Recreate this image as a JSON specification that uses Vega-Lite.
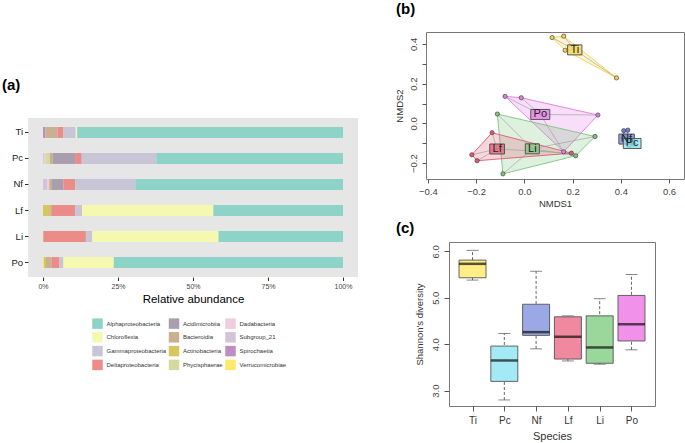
{
  "$schema": "https://vega.github.io/schema/vega-lite/v6.json",
  "padding": {"left": 2, "top": 1, "right": 0, "bottom": 0},
  "background": "white",
  "config": {
    "font": "Liberation Sans",
    "axis": {"labelFont": "Liberation Sans", "titleFont": "Liberation Sans", "titleFontWeight": "normal", "grid": false, "domain": false},
    "legend": {"labelFont": "Liberation Sans"},
    "title": {"font": "Liberation Sans", "fontWeight": "bold", "fontSize": 15, "anchor": "start", "color": "#000"}
  },
  "datasets": {
    "comp": [
      {"sp": "Ti", "cls": "Spirochaetia", "v": 0.8},
      {"sp": "Ti", "cls": "Bacteroidia", "v": 4.0},
      {"sp": "Ti", "cls": "Deltaproteobacteria", "v": 2.0},
      {"sp": "Ti", "cls": "Gammaproteobacteria", "v": 4.1},
      {"sp": "Ti", "cls": "Chloroflexia", "v": 0.5},
      {"sp": "Ti", "cls": "Alphaproteobacteria", "v": 88.6},
      {"sp": "Pc", "cls": "Subgroup_21", "v": 0.3},
      {"sp": "Pc", "cls": "Dadabacteria", "v": 0.5},
      {"sp": "Pc", "cls": "Phycisphaerae", "v": 1.5},
      {"sp": "Pc", "cls": "Bacteroidia", "v": 0.9},
      {"sp": "Pc", "cls": "Acidimicrobiia", "v": 7.5},
      {"sp": "Pc", "cls": "Deltaproteobacteria", "v": 2.2},
      {"sp": "Pc", "cls": "Gammaproteobacteria", "v": 24.9},
      {"sp": "Pc", "cls": "Alphaproteobacteria", "v": 62.2},
      {"sp": "Nf", "cls": "Subgroup_21", "v": 1.4},
      {"sp": "Nf", "cls": "Dadabacteria", "v": 0.7},
      {"sp": "Nf", "cls": "Bacteroidia", "v": 0.9},
      {"sp": "Nf", "cls": "Acidimicrobiia", "v": 3.8},
      {"sp": "Nf", "cls": "Deltaproteobacteria", "v": 3.9},
      {"sp": "Nf", "cls": "Gammaproteobacteria", "v": 20.1},
      {"sp": "Nf", "cls": "Alphaproteobacteria", "v": 69.2},
      {"sp": "Lf", "cls": "Actinobacteria", "v": 2.4},
      {"sp": "Lf", "cls": "Bacteroidia", "v": 0.6},
      {"sp": "Lf", "cls": "Deltaproteobacteria", "v": 7.7},
      {"sp": "Lf", "cls": "Gammaproteobacteria", "v": 2.3},
      {"sp": "Lf", "cls": "Chloroflexia", "v": 43.8},
      {"sp": "Lf", "cls": "Alphaproteobacteria", "v": 43.2},
      {"sp": "Li", "cls": "Bacteroidia", "v": 0.3},
      {"sp": "Li", "cls": "Deltaproteobacteria", "v": 14.0},
      {"sp": "Li", "cls": "Gammaproteobacteria", "v": 2.1},
      {"sp": "Li", "cls": "Chloroflexia", "v": 42.1},
      {"sp": "Li", "cls": "Alphaproteobacteria", "v": 41.5},
      {"sp": "Po", "cls": "Verrucomicrobiae", "v": 0.3},
      {"sp": "Po", "cls": "Actinobacteria", "v": 0.7},
      {"sp": "Po", "cls": "Bacteroidia", "v": 1.8},
      {"sp": "Po", "cls": "Deltaproteobacteria", "v": 2.7},
      {"sp": "Po", "cls": "Gammaproteobacteria", "v": 1.3},
      {"sp": "Po", "cls": "Chloroflexia", "v": 16.8},
      {"sp": "Po", "cls": "Alphaproteobacteria", "v": 76.4}
    ],
    "pts": [
      {"g": "Ti", "x": 0.115, "y": 0.432, "h": 1},
      {"g": "Ti", "x": 0.163, "y": 0.439, "h": 2},
      {"g": "Ti", "x": 0.382, "y": 0.229, "h": 3},
      {"g": "Ti", "x": 0.169, "y": 0.368, "h": 4},
      {"g": "Po", "x": -0.080, "y": 0.136, "h": 1},
      {"g": "Po", "x": -0.013, "y": 0.129, "h": 2},
      {"g": "Po", "x": 0.305, "y": 0.042, "h": 3},
      {"g": "Po", "x": 0.163, "y": -0.143, "h": 4},
      {"g": "Li", "x": -0.112, "y": 0.047, "h": 1},
      {"g": "Li", "x": 0.293, "y": -0.066, "h": 2},
      {"g": "Li", "x": 0.213, "y": -0.163, "h": 3},
      {"g": "Li", "x": -0.089, "y": -0.254, "h": 4},
      {"g": "Lf", "x": -0.134, "y": -0.047, "h": 1},
      {"g": "Lf", "x": 0.195, "y": -0.150, "h": 2},
      {"g": "Lf", "x": -0.196, "y": -0.188, "h": 3},
      {"g": "Lf", "x": -0.218, "y": -0.158, "h": 4},
      {"g": "Nf", "x": 0.412, "y": -0.037, "h": 1},
      {"g": "Nf", "x": 0.429, "y": -0.034, "h": 2},
      {"g": "Nf", "x": 0.430, "y": -0.085, "h": 3},
      {"g": "Nf", "x": 0.410, "y": -0.075, "h": 4},
      {"g": "Pc", "x": 0.440, "y": -0.095, "h": 1},
      {"g": "Pc", "x": 0.455, "y": -0.105, "h": 2},
      {"g": "Pc", "x": 0.435, "y": -0.110, "h": 3}
    ],
    "lab": [
      {"g": "Ti", "x": 0.209, "y": 0.370},
      {"g": "Po", "x": 0.066, "y": 0.045},
      {"g": "Lf", "x": -0.113, "y": -0.129},
      {"g": "Li", "x": 0.033, "y": -0.128},
      {"g": "Nf", "x": 0.424, "y": -0.079},
      {"g": "Pc", "x": 0.447, "y": -0.101}
    ],
    "box": [
      {"sp": "Ti", "lo": 5.38, "q1": 5.43, "med": 5.73, "q3": 5.81, "hi": 6.02},
      {"sp": "Pc", "lo": 2.80, "q1": 3.20, "med": 3.65, "q3": 3.96, "hi": 4.23},
      {"sp": "Nf", "lo": 3.90, "q1": 4.19, "med": 4.26, "q3": 4.86, "hi": 5.57},
      {"sp": "Lf", "lo": 3.64, "q1": 3.68, "med": 4.16, "q3": 4.59, "hi": 4.61},
      {"sp": "Li", "lo": 3.57, "q1": 3.59, "med": 3.93, "q3": 4.61, "hi": 4.98},
      {"sp": "Po", "lo": 3.88, "q1": 4.07, "med": 4.43, "q3": 5.05, "hi": 5.50}
    ]
  },
  "spacing": 34,
  "hconcat": [
    {
      "spacing": 40,
      "vconcat": [
        {"width": 10, "height": 1, "data": {"values": [{"a": 0}]}, "mark": {"type": "text", "text": ""}, "encoding": {}, "view": {"stroke": null, "fill": null}},
        {
          "width": 330,
          "height": 159,
          "title": {"text": "(a)", "frame": "group", "dx": -26, "offset": 25},
          "view": {"fill": "#E6E6E6", "stroke": null},
          "data": {"name": "comp"},
          "transform": [
            {"calculate": "indexof(['Verrucomicrobiae','Spirochaetia','Subgroup_21','Dadabacteria','Phycisphaerae','Actinobacteria','Bacteroidia','Acidimicrobiia','Deltaproteobacteria','Gammaproteobacteria','Chloroflexia','Alphaproteobacteria'], datum.cls)", "as": "ord"}
          ],
          "mark": {"type": "bar"},
          "encoding": {
            "y": {
              "field": "sp", "type": "nominal", "sort": ["Ti", "Pc", "Nf", "Lf", "Li", "Po"],
              "scale": {"paddingInner": 0.58, "paddingOuter": 0.346},
              "axis": {"title": null, "ticks": true, "tickSize": 3.5, "tickColor": "#333", "labelFontSize": 9.5, "labelColor": "#222", "labelPadding": 2}
            },
            "x": {
              "field": "v", "type": "quantitative", "stack": "normalize",
              "scale": {"domain": [-0.05, 1.05], "nice": false, "zero": false},
              "axis": {"values": [0, 0.25, 0.5, 0.75, 1], "format": ".0%", "title": "Relative abundance", "titleFontSize": 11.5, "titleColor": "#000", "titlePadding": 4, "labelFontSize": 7, "labelColor": "#444", "tickSize": 3.5, "tickColor": "#333", "labelPadding": 2}
            },
            "color": {
              "field": "cls", "type": "nominal",
              "scale": {
                "domain": ["Alphaproteobacteria", "Chloroflexia", "Gammaproteobacteria", "Deltaproteobacteria", "Acidimicrobiia", "Bacteroidia", "Actinobacteria", "Phycisphaerae", "Dadabacteria", "Subgroup_21", "Spirochaetia", "Verrucomicrobiae"],
                "range": ["#8DD3C7", "#F5F9B0", "#C8C6D6", "#EB8C88", "#A89EAE", "#C9B08F", "#D7C65E", "#D5DA9F", "#EFCCDF", "#D3C3D6", "#BF8DBF", "#FFE86A"]
              },
              "legend": {"orient": "none", "legendX": 64, "legendY": 286, "columns": 3, "title": null, "symbolType": "square", "symbolSize": 110, "symbolStrokeWidth": 0, "symbolOpacity": 1, "labelFontSize": 6, "labelColor": "#333", "rowPadding": 2.8, "columnPadding": 1.5, "labelOffset": 3.5, "padding": 0, "labelLimit": 200}
            },
            "order": {"field": "ord", "type": "quantitative"}
          }
        }
      ]
    },
    {
      "spacing": 11,
      "resolve": {"scale": {"fill": "independent"}},
      "vconcat": [
        {
          "title": {"text": "(b)", "offset": 10, "dx": 4},
          "spacing": 0,
          "hconcat": [
            {"width": 1, "height": 1, "data": {"values": [{"a": 0}]}, "mark": {"type": "text", "text": ""}, "encoding": {}, "view": {"stroke": null, "fill": null}},
            {
              "width": 258,
              "height": 147,
              "view": {"stroke": "#777"},
              "encoding": {
                "x": {
                  "field": "x", "type": "quantitative",
                  "scale": {"domain": [-0.408, 0.662], "nice": false, "zero": false},
                  "axis": {"values": [-0.4, -0.2, 0, 0.2, 0.4, 0.6], "format": ".1f", "title": "NMDS1", "titleFontSize": 9.5, "titleColor": "#333", "titlePadding": 3, "labelFontSize": 9.5, "labelColor": "#444", "tickSize": 4, "tickColor": "#555", "labelPadding": 3}
                },
                "y": {
                  "field": "y", "type": "quantitative",
                  "scale": {"domain": [-0.28, 0.46], "nice": false, "zero": false},
                  "axis": {"values": [-0.2, -0.1, 0, 0.1, 0.2, 0.3, 0.4], "labelExpr": "abs(round(datum.value*10))%2==0 ? format(datum.value, '.1f') : ''", "labelAngle": 270, "labelAlign": "center", "labelBaseline": "bottom", "title": "NMDS2", "titleFontSize": 9.5, "titleColor": "#333", "titlePadding": 4, "labelFontSize": 9.5, "labelColor": "#444", "tickSize": 4, "tickColor": "#555", "labelPadding": 4}
                }
              },
              "layer": [
                {
                  "data": {"name": "pts"},
                  "mark": {"type": "line", "interpolate": "linear-closed", "fillOpacity": 0.25, "strokeWidth": 1, "strokeOpacity": 0.9},
                  "encoding": {
                    "order": {"field": "h", "type": "quantitative"},
                    "detail": {"field": "g", "type": "nominal"},
                    "stroke": {"field": "g", "type": "nominal", "scale": {"domain": ["Ti", "Po", "Lf", "Li", "Nf", "Pc"], "range": ["#F2D54C", "#E27BE2", "#E05A73", "#7DC57D", "#6A7ED4", "#86E0F0"]}, "legend": null},
                    "fill": {"field": "g", "type": "nominal", "scale": {"domain": ["Ti", "Po", "Lf", "Li", "Nf", "Pc"], "range": ["#F2D54C", "#E27BE2", "#E05A73", "#7DC57D", "#6A7ED4", "#86E0F0"]}, "legend": null}
                  }
                },
                {
                  "data": {"name": "pts"},
                  "transform": [{"lookup": "g", "from": {"data": {"name": "lab"}, "key": "g", "fields": ["x", "y"]}, "as": ["lx", "ly"]}],
                  "mark": {"type": "rule", "color": "#999", "strokeWidth": 0.6},
                  "encoding": {"x2": {"field": "lx"}, "y2": {"field": "ly"}}
                },
                {
                  "data": {"name": "pts"},
                  "mark": {"type": "point", "filled": true, "shape": "circle", "size": 18, "stroke": "#444", "strokeWidth": 0.7, "opacity": 1},
                  "encoding": {
                    "fill": {"field": "g", "type": "nominal", "scale": {"domain": ["Ti", "Po", "Lf", "Li", "Nf", "Pc"], "range": ["#F2D54C", "#E27BE2", "#E05A73", "#7DC57D", "#6A7ED4", "#86E0F0"]}, "legend": null}
                  }
                },
                {
                  "data": {"name": "lab"},
                  "mark": {"type": "point", "filled": true, "size": 100, "stroke": "#555", "strokeWidth": 1, "fillOpacity": 0.72, "opacity": 1},
                  "encoding": {
                    "fill": {"field": "g", "type": "nominal", "scale": {"domain": ["Ti", "Po", "Lf", "Li", "Nf", "Pc"], "range": ["#F2D54C", "#E27BE2", "#E05A73", "#7DC57D", "#6A7ED4", "#86E0F0"]}, "legend": null},
                    "shape": {"field": "g", "type": "nominal", "scale": {"domain": ["Ti", "Po", "Lf", "Li", "Nf", "Pc"], "range": ["M-1.43,-1L1.43,-1L1.43,1L-1.43,1Z", "M-1.9,-1L1.9,-1L1.9,1L-1.9,1Z", "M-1.47,-1L1.47,-1L1.47,1L-1.47,1Z", "M-1.4,-1L1.4,-1L1.4,1L-1.4,1Z", "M-1.55,-1L1.55,-1L1.55,1L-1.55,1Z", "M-1.77,-1L1.77,-1L1.77,1L-1.77,1Z"]}, "legend": null}
                  }
                },
                {
                  "data": {"name": "lab"},
                  "mark": {"type": "text", "fontSize": 11, "color": "#222"},
                  "encoding": {"text": {"field": "g", "type": "nominal"}}
                }
              ]
            }
          ]
        },
        {
          "title": {"text": "(c)", "offset": 1, "dx": 4},
          "spacing": 0,
          "hconcat": [
            {"width": 21, "height": 1, "data": {"values": [{"a": 0}]}, "mark": {"type": "text", "text": ""}, "encoding": {}, "view": {"stroke": null, "fill": null}},
            {
              "width": 206,
              "height": 164,
              "view": {"stroke": "#777"},
              "data": {"name": "box"},
              "encoding": {
                "x": {
                  "field": "sp", "type": "nominal", "sort": ["Ti", "Pc", "Nf", "Lf", "Li", "Po"],
                  "scale": {"type": "point", "padding": 0.74},
                  "axis": {"title": "Species", "titleFontSize": 11, "titleColor": "#333", "titlePadding": 5, "labelFontSize": 10, "labelColor": "#333", "labelAngle": 0, "tickSize": 5, "tickColor": "#555", "labelPadding": 4}
                }
              },
              "layer": [
                {
                  "mark": {"type": "rule", "strokeDash": [3, 2], "color": "#555", "strokeWidth": 0.9},
                  "encoding": {
                    "y": {"field": "lo", "type": "quantitative", "title": "Shannon's diversity", "scale": {"domain": [2.67, 6.2], "nice": false, "zero": false},
                      "axis": {"values": [3, 3.5, 4, 4.5, 5, 5.5, 6], "format": ".1f", "labelAngle": 270, "labelAlign": "center", "labelBaseline": "bottom", "labelFontSize": 9.5, "labelColor": "#444", "tickSize": 5, "tickColor": "#555", "title": "Shannon's diversity", "titleFontSize": 9.5, "titleColor": "#333", "titlePadding": 6, "labelPadding": 4}},
                    "y2": {"field": "hi"}
                  }
                },
                {
                  "mark": {"type": "tick", "size": 12, "thickness": 1, "color": "#555"},
                  "encoding": {"y": {"field": "lo", "type": "quantitative", "title": "Shannon's diversity", "scale": {"domain": [2.67, 6.2], "nice": false, "zero": false}}}
                },
                {
                  "mark": {"type": "tick", "size": 12, "thickness": 1, "color": "#555"},
                  "encoding": {"y": {"field": "hi", "type": "quantitative", "title": "Shannon's diversity", "scale": {"domain": [2.67, 6.2], "nice": false, "zero": false}}}
                },
                {
                  "mark": {"type": "bar", "size": 27, "stroke": "#555", "strokeWidth": 0.9},
                  "encoding": {
                    "y": {"field": "q1", "type": "quantitative", "title": "Shannon's diversity", "scale": {"domain": [2.67, 6.2], "nice": false, "zero": false}},
                    "y2": {"field": "q3"},
                    "fill": {"field": "sp", "type": "nominal", "scale": {"domain": ["Ti", "Pc", "Nf", "Lf", "Li", "Po"], "range": ["#FFED85", "#A3EAF6", "#9BA8E6", "#F0889F", "#99D79B", "#F291EA"]}, "legend": null}
                  }
                },
                {
                  "mark": {"type": "tick", "size": 27, "thickness": 2.5, "color": "#111"},
                  "encoding": {"y": {"field": "med", "type": "quantitative", "title": "Shannon's diversity", "scale": {"domain": [2.67, 6.2], "nice": false, "zero": false}}}
                }
              ]
            }
          ]
        }
      ]
    }
  ]
}
